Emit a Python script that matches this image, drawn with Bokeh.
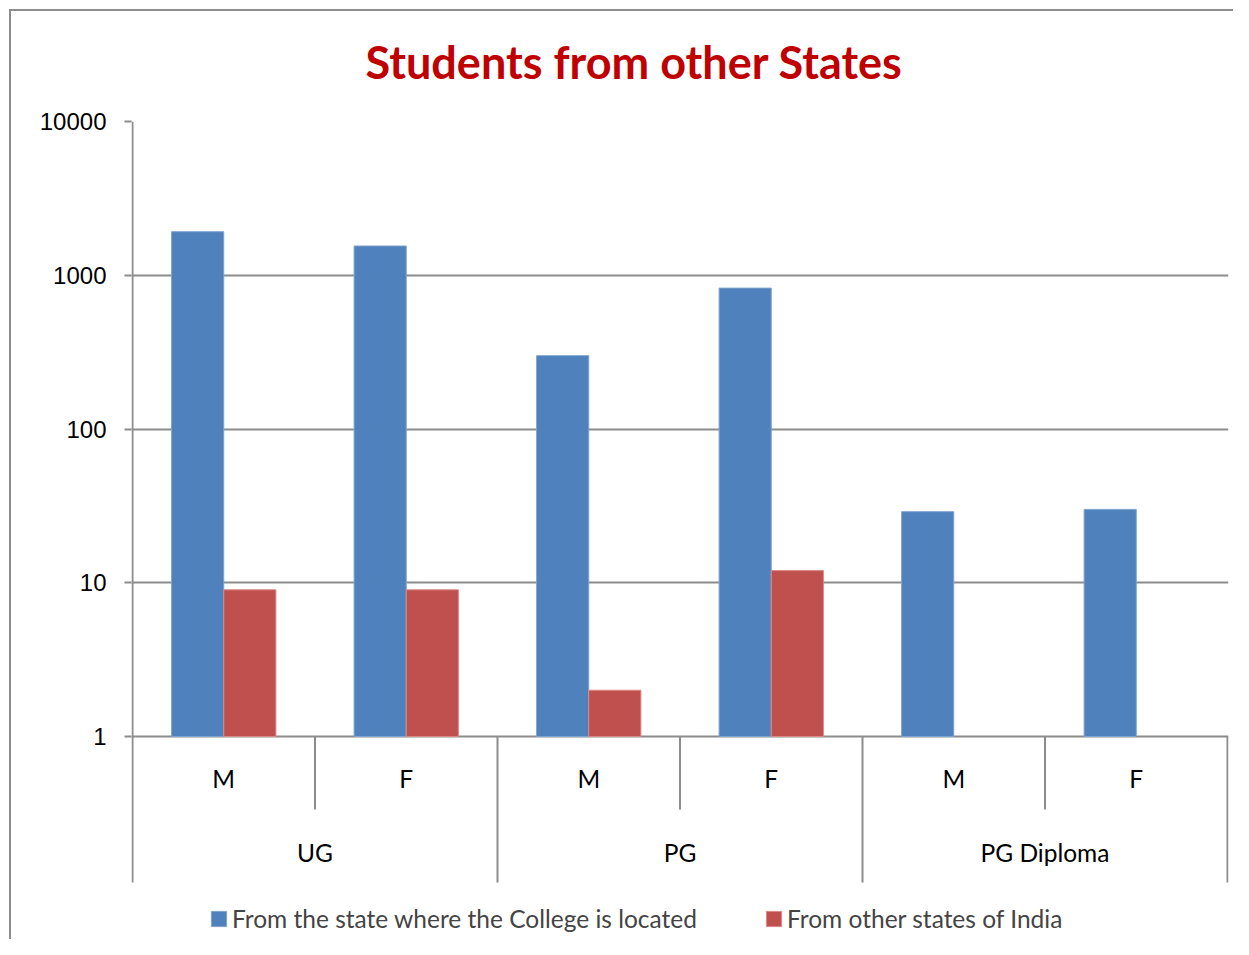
import math
from bokeh.plotting import figure
from bokeh.models import (Range1d, FixedTicker, BasicTickFormatter, Legend, LegendItem,
                          ColumnDataSource)
from bokeh.core.properties import value
from bokeh.embed import file_html
from bokeh.resources import INLINE

# ---- data ----
groups = ["UG", "PG", "PG Diploma"]
sexes = ["M", "F"]
categories = [(g, s) for g in groups for s in sexes]
series_names = ["From the state where the College is located", "From other states of India"]
same_state = [1920, 1550, 300, 825, 29, 30]
other_states = [9, 9, 2, 12, float("nan"), float("nan")]
y_ticks = [1, 10, 100, 1000, 10000]

BLUE = "#4F81BD"
RED = "#C0504D"
GRID = "#8C8C8C"

# ---- layout constants (canvas pixels) ----
W, H = 1233, 939
FRAME_L, FRAME_R, FRAME_T = 131, 1228, 121
FRAME_B = H                # frame runs to the canvas bottom (legend sits inside it)
Y1_PIX = 736               # where value 1 sits
AXIS_END = 882             # where the category separators end
px_per_dec = (Y1_PIX - FRAME_T) / 4.0

def y_at(pix_below_axis):
    return 10 ** (-pix_below_axis / px_per_dec)

y_start = y_at(FRAME_B - Y1_PIX)
n = len(categories)
x_pad = 1.0 / (FRAME_R - FRAME_L) * n  # ~1px so edge lines are not clipped

p = figure(width=W, height=H, output_backend="svg", toolbar_location=None,
           y_axis_type="log", x_range=Range1d(-x_pad, n + x_pad),
           y_range=Range1d(y_start, 10000),
           min_border_left=FRAME_L, min_border_right=W - FRAME_R,
           min_border_top=FRAME_T, min_border_bottom=0)
p.outline_line_color = None
p.background_fill_color = "white"
p.border_fill_alpha = 0
p.styles = {"box-shadow": "inset 9px 9px 0 0 white, inset 11px 11px 0 0 #8C8C8C"}

# title
p.title.text = "Students from other States"
p.title.text_font = "Lato"
p.title.text_font_style = "bold"
p.title.text_font_size = "45px"
p.title.text_color = "#C00000"
p.title.align = "left"
p.title.offset = 234
p.title.standoff = 65

# axes
p.xaxis.visible = False
p.xgrid.visible = False
ya = p.yaxis[0]
ya.ticker = FixedTicker(ticks=y_ticks, minor_ticks=[])
ya.formatter = BasicTickFormatter()
ya.axis_line_color = None
ya.major_tick_line_color = GRID
ya.major_tick_line_width = 2
ya.major_tick_out = 7
ya.major_tick_in = 0
ya.minor_tick_line_color = None
ya.major_label_standoff = 18
ya.major_label_text_font = "Liberation Sans"
ya.major_label_text_font_size = "24px"
ya.major_label_text_color = "#000000"
p.ygrid.grid_line_color = GRID
p.ygrid.grid_line_width = 2

# bars
bw = 1.0 / 3.5
xs = [i + 0.5 for i in range(n)]
src = ColumnDataSource(dict(
    xb=[x - bw / 2 for x in xs], xr=[x + bw / 2 for x in xs],
    top_b=same_state, top_r=other_states, bottom=[1] * n))
rb = p.vbar(x="xb", top="top_b", bottom="bottom", width=bw, source=src,
            fill_color=BLUE, line_color="#7FA3CF", line_width=1)
rr = p.vbar(x="xr", top="top_r", bottom="bottom", width=bw, source=src,
            fill_color=RED, line_color="#D98A88", line_width=1)

# value axis line + category separators (Excel-style multi-level axis)
y_end = y_at(AXIS_END - Y1_PIX)
sub_depth = y_at(73)
sx, sy0, sy1 = [0], [10000], [y_end]
for i in range(1, n + 1):
    sx.append(i); sy0.append(1)
    sy1.append(y_end if i % len(sexes) == 0 else sub_depth)
p.segment(x0=sx, y0=sy0, x1=sx, y1=sy1, line_color=GRID, line_width=2)

# sub-category labels
p.text(x=xs, y=[y_at(42)] * n, text=[c[1] for c in categories],
       text_align="center", text_baseline="middle",
       text_font=value("Lato"), text_font_size="24.5px", text_color="black")
# group labels
gx = [len(sexes) * (j + 0.5) for j in range(len(groups))]
p.text(x=gx, y=[y_at(116)] * len(groups), text=groups,
       text_align="center", text_baseline="middle",
       text_font=value("Lato"), text_font_size="24.5px", text_color="black")

# legend (inside the frame, below the category axis)
legend = Legend(items=[LegendItem(label=series_names[0], renderers=[rb]),
                       LegendItem(label=series_names[1], renderers=[rr])],
                orientation="horizontal", location=(78, 6))
legend.label_text_font = "Lato"
legend.label_text_font_size = "24.5px"
legend.label_standoff = 4
legend.glyph_width = 19
legend.glyph_height = 19
legend.spacing = 67
legend.padding = 0
legend.margin = 0
legend.border_line_color = None
legend.background_fill_alpha = 0
p.add_layout(legend)

open("out.html", "w").write(file_html(p, INLINE))
